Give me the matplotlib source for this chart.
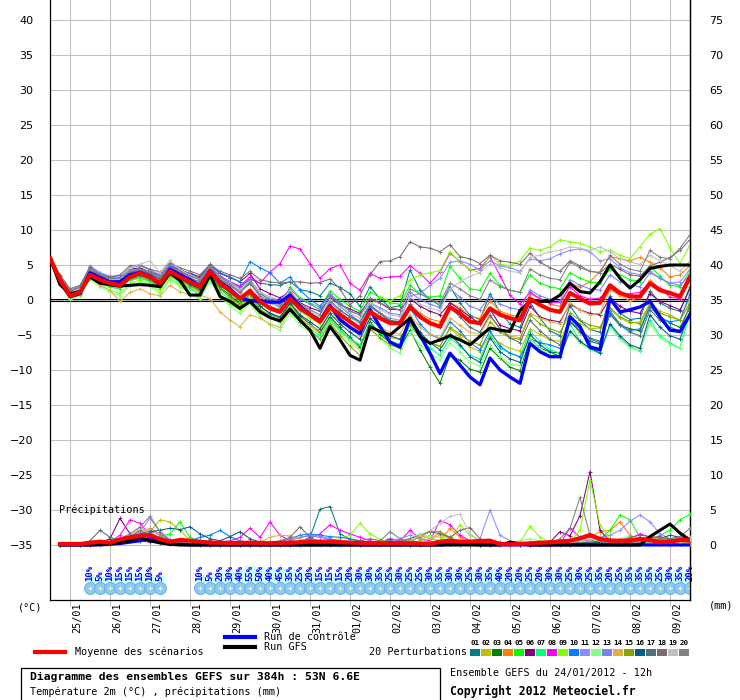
import matplotlib
matplotlib.use("Agg")
import matplotlib.pyplot as plt
import matplotlib.transforms as mtransforms
from matplotlib.lines import Line2D
from matplotlib.patches import Rectangle

MONO = "DejaVu Sans Mono"

# ---- data (6-hourly steps, 24/01/2012 12h + 0..384h) ----
hours = list(range(0, 385, 6))
day_hours = list(range(12, 384, 24))
day_labels = ["25/01", "26/01", "27/01", "28/01", "29/01", "30/01", "31/01", "01/02",
              "02/02", "03/02", "04/02", "05/02", "06/02", "07/02", "08/02", "09/02"]

mean_temp = [6.0, 2.9, 0.6, 1.1, 3.6, 2.9, 2.4, 2.1, 3.3, 3.8, 3.3, 2.4, 4.1,
             3.3, 2.6, 1.9, 4.1, 2.4, 1.4, 0.2, 1.3, -0.2, -1.2, -1.7, 0.2, -1.2,
             -2.1, -3.1, -1.0, -2.1, -3.1, -4.1, -1.7, -2.6, -3.3, -3.3, -1.0, -2.4, -3.3,
             -3.8, -1.0, -1.9, -3.1, -3.3, -1.2, -2.1, -2.6, -2.9, 0.2, -0.7, -1.4, -1.7,
             1.0, 0.2, -0.5, -0.4, 2.1, 1.0, 0.5, 0.5, 2.4, 1.4, 1.0, 0.5, 3.3]
control_temp = [6.0, 2.6, 0.5, 0.9, 3.9, 3.2, 2.6, 2.6, 3.6, 3.9, 3.4, 2.2, 4.4,
                3.6, 2.9, 2.0, 4.2, 2.6, 1.6, 0.3, -0.1, -0.2, -0.3, -0.3, 0.7, -0.9,
                -2.0, -3.0, -0.8, -2.8, -3.9, -4.8, -1.4, -3.8, -6.0, -6.7, -2.6, -5.0, -7.6,
                -10.5, -7.6, -9.3, -11.0, -12.1, -8.3, -10.0, -11.0, -11.9, -6.2, -7.4, -8.1, -8.1,
                -2.4, -3.8, -6.7, -7.1, 0.2, -1.7, -1.4, -1.0, -0.2, -2.4, -4.3, -4.5, -2.1]
gfs_temp = [6.0, 2.2, 0.9, 1.2, 3.3, 2.4, 2.2, 2.0, 2.1, 2.2, 2.1, 1.9, 3.9,
            2.8, 0.7, 0.7, 3.6, 0.5, -0.2, -1.2, -0.2, -1.7, -2.5, -3.0, -1.3, -2.9,
            -4.3, -6.9, -3.8, -5.7, -7.9, -8.6, -3.8, -4.5, -5.0, -3.8, -2.6, -5.2, -6.2,
            -5.7, -5.1, -5.7, -6.4, -5.2, -4.0, -4.3, -4.5, -1.5, -0.2, -0.2, -0.2, 0.7,
            2.4, 1.2, 1.0, 2.6, 5.0, 3.1, 1.7, 2.9, 4.5, 4.8, 5.0, 5.0, 5.0]

p01 = [6.0, 2.6, 0.9, 1.4, 3.9, 3.0, 2.7, 2.6, 3.9, 4.2, 3.7, 3.1, 4.6,
       4.0, 3.5, 2.9, 4.6, 3.4, 2.6, 1.9, 3.0, 2.4, 2.2, 2.1, 2.6, 1.5,
       1.2, 0.6, 2.4, 1.8, 0.9, -0.9, 1.9, 0.2, -1.1, -0.8, 4.3, 1.4, 0.1,
       -0.8, 1.9, -0.4, -2.2, -2.8, 0.9, -1.8, -3.4, -3.9, -0.3, -2.6, -4.4, -5.1,
       -0.8, -2.9, -4.2, -4.6, 0.6, -1.9, -2.8, -2.6, 1.3, -0.4, -1.2, -1.6, 1.9]
p02 = [6.0, 2.3, 0.3, 0.8, 3.2, 2.5, 1.9, 1.6, 2.9, 3.2, 2.7, 1.8, 3.5,
       2.6, 1.8, 1.0, 3.4, 1.6, 0.4, -0.9, 0.4, -1.3, -2.4, -2.9, -0.9, -2.6,
       -3.7, -4.8, -2.6, -4.2, -5.6, -6.9, -3.7, -4.6, -5.4, -5.6, -3.1, -4.9, -6.1,
       -6.6, -4.1, -5.3, -6.7, -7.4, -4.9, -6.2, -6.9, -7.3, -4.1, -4.9, -5.7, -5.9,
       -2.6, -3.4, -4.1, -4.0, -1.3, -2.6, -3.3, -3.1, -0.4, -1.6, -2.1, -2.9, 0.4]
p03 = [6.0, 2.8, 0.4, 0.9, 3.4, 2.6, 2.0, 1.8, 3.0, 3.4, 2.9, 2.0, 3.7,
       2.9, 2.2, 1.4, 3.6, 1.8, 0.7, -0.6, 0.8, -0.9, -1.9, -2.6, -0.6, -2.3,
       -3.4, -4.6, -2.4, -3.9, -5.3, -6.7, -3.1, -4.9, -6.1, -6.9, -4.3, -7.1, -9.6,
       -11.9, -7.9, -8.6, -9.9, -10.3, -6.9, -8.3, -9.6, -10.1, -5.4, -6.9, -7.4, -7.6,
       -3.1, -4.6, -5.9, -6.3, -1.9, -3.6, -4.1, -4.4, -0.9, -2.4, -3.3, -3.9, -1.1]
p04 = [6.0, 3.1, 0.8, 1.3, 3.8, 3.2, 2.6, 2.3, 3.6, 4.0, 3.5, 2.6, 4.4,
       3.6, 2.8, 2.1, 4.2, 2.5, 1.6, 0.4, 1.6, -0.1, -0.9, -1.4, 0.6, -1.1,
       -2.0, -2.9, -0.9, -2.1, -3.1, -3.9, -1.4, -2.3, -3.1, -3.3, -0.6, -1.9, -2.7,
       -3.1, -0.4, -1.1, -2.4, -2.6, -0.1, -1.6, -2.1, -2.4, 0.9, 0.2, -0.6, -0.9,
       2.3, 1.9, 2.6, 4.1, 6.2, 5.9, 5.6, 6.1, 5.4, 4.6, 3.3, 3.6, 4.9]
p05 = [6.0, 2.7, 0.5, 1.0, 3.5, 2.8, 2.3, 2.0, 3.2, 3.6, 3.1, 2.2, 3.9,
       3.1, 2.4, 1.6, 3.8, 2.1, 1.0, -0.3, 1.2, -0.6, -1.1, -1.3, 1.9, 0.3,
       -0.4, -1.1, 1.3, 0.1, -0.9, -1.6, 1.1, 0.4, -0.4, -0.6, 2.1, 0.9, 0.4,
       0.6, 4.8, 3.1, 1.6, 1.4, 3.8, 2.1, 1.4, 1.1, 3.6, 2.4, 1.9, 1.6,
       3.9, 3.1, 2.6, 2.4, 4.4, 3.6, 2.9, 2.6, 4.9, 3.4, 2.1, 1.9, 4.1]
p06 = [6.0, 3.2, 1.0, 1.5, 4.2, 3.4, 3.0, 3.1, 4.4, 4.6, 4.0, 3.6, 4.9,
       4.3, 3.8, 3.3, 5.0, 3.8, 3.2, 2.6, 3.8, 1.6, 0.9, 0.3, 1.2, -0.4,
       -1.1, -1.6, 0.3, -0.6, -1.3, -1.9, 0.1, -0.4, -1.3, -1.4, 0.2, -0.9, -1.6,
       -2.1, -0.4, -1.4, -2.4, -3.4, -1.3, -3.6, -4.1, -4.4, -0.9, -2.4, -2.9, -3.1,
       -0.6, -1.4, -1.9, -2.1, 0.3, -0.9, -1.6, -1.9, 0.9, -0.2, -0.8, -1.4, 1.6]
p07 = [6.0, 2.5, 0.2, 0.7, 3.3, 2.4, 1.8, 1.6, 2.8, 3.1, 2.6, 1.6, 3.4,
       2.4, 1.6, 0.7, 3.1, 1.2, 0.1, -1.1, 0.1, -1.6, -2.6, -3.1, -1.6, -3.1,
       -4.1, -5.1, -2.9, -4.4, -5.6, -6.4, -3.4, -4.6, -5.9, -6.3, -3.6, -5.4, -6.9,
       -7.9, -5.4, -6.6, -7.9, -8.4, -5.1, -6.9, -7.6, -8.1, -4.4, -5.9, -7.1, -7.6,
       -3.4, -5.9, -6.9, -7.4, -3.6, -5.4, -6.6, -7.3, -2.9, -5.1, -6.1, -6.9, -1.9]
p08 = [6.0, 2.9, 0.7, 1.2, 3.7, 3.1, 2.7, 2.5, 3.7, 4.1, 3.6, 2.9, 4.6,
       3.9, 3.4, 2.9, 4.5, 3.4, 2.6, 2.0, 3.3, 2.4, 4.0, 5.2, 7.7, 7.3,
       5.2, 3.1, 4.5, 5.0, 2.4, 1.4, 3.8, 3.1, 3.3, 3.4, 4.9, 3.8, 2.4,
       4.0, 6.7, 5.5, 4.3, 4.5, 6.2, 3.5, 0.7, -0.6, 1.1, 0.2, -0.4, -0.3,
       1.9, 0.6, 0.1, 0.3, 1.6, 0.8, 0.9, 1.1, 2.6, 1.7, 0.4, 0.2, 2.9]
p09 = [6.0, 2.4, 0.1, 0.6, 3.1, 2.2, 1.4, 0.9, 2.3, 2.9, 2.2, 1.2, 3.1,
       2.1, 0.9, 0.2, 2.9, 0.7, -0.6, -1.4, -0.4, -1.9, -2.4, -2.9, -0.9, -1.6,
       -2.6, -3.4, -0.9, -1.9, -2.6, -3.1, -0.6, 0.4, -0.1, 0.6, 2.9, 3.6, 3.9,
       4.2, 6.9, 5.4, 4.4, 3.9, 6.4, 5.1, 4.9, 5.6, 7.4, 7.1, 7.6, 8.6,
       8.3, 8.1, 7.6, 6.9, 7.1, 6.4, 5.9, 7.6, 9.4, 10.2, 7.4, 5.2, 7.9]
p10 = [6.0, 3.0, 0.9, 1.5, 4.3, 3.6, 3.1, 2.9, 4.1, 4.4, 3.9, 3.3, 4.9,
       4.2, 3.7, 3.1, 4.9, 3.9, 3.3, 2.6, 5.5, 4.6, 3.9, 2.4, 3.3, 1.4,
       0.1, -0.9, 0.9, -0.9, -2.1, -3.1, -0.6, -1.9, -3.1, -3.6, -1.1, -3.4, -4.9,
       -5.6, -3.1, -4.4, -6.1, -7.1, -4.4, -6.6, -7.6, -8.1, -5.6, -6.1, -6.4, -6.9,
       -3.1, -4.1, -5.6, -6.1, -1.6, -3.4, -4.4, -4.1, -0.9, -2.6, -3.1, -2.9, 0.9]
p11 = [6.0, 2.8, 0.8, 1.4, 4.6, 3.8, 3.3, 3.0, 4.3, 4.4, 3.9, 3.1, 4.4,
       3.6, 3.0, 2.4, 4.4, 2.9, 2.0, 1.0, 2.4, 0.4, -0.4, -1.1, 0.4, -1.4,
       -2.1, -2.6, -0.4, -1.6, -2.4, -3.4, -1.1, -1.9, -2.6, -2.9, 0.6, 0.9, 2.1,
       3.1, 5.4, 5.6, 5.1, 4.3, 5.6, 4.9, 4.6, 4.1, 5.9, 5.6, 5.9, 6.6,
       7.1, 7.3, 6.9, 5.6, 5.9, 4.6, 3.9, 3.6, 4.1, 3.1, 2.4, 2.6, 4.4]
p12 = [6.0, 2.2, 0.1, 0.6, 3.0, 1.9, 1.1, 0.6, 2.0, 2.6, 1.9, 0.9, 2.9,
       1.9, 1.0, 0.3, 2.6, 0.6, -0.9, -1.9, -0.6, -2.4, -3.6, -4.3, -1.9, -3.6,
       -4.6, -5.6, -3.1, -4.9, -5.9, -7.3, -4.1, -5.4, -6.9, -7.6, -4.6, -6.4, -7.6,
       -8.6, -6.1, -7.4, -8.9, -9.4, -6.4, -8.1, -9.1, -9.4, -5.4, -6.9, -7.9, -8.1,
       -4.6, -6.1, -7.1, -7.6, -3.9, -5.6, -6.9, -7.1, -3.4, -5.4, -6.4, -6.9, 0.1]
p13 = [6.0, 3.3, 1.2, 1.7, 4.9, 3.9, 3.4, 3.3, 4.6, 4.9, 4.3, 3.6, 5.1,
       4.4, 3.6, 3.0, 4.9, 3.4, 2.6, 1.6, 2.9, 1.1, 0.4, -0.1, 1.6, 0.1,
       -0.6, -1.4, 0.9, -0.4, -1.6, -2.1, -0.4, -1.1, -1.9, -2.1, 1.1, 0.1, -0.6,
       -1.1, 1.6, 0.4, -0.9, -1.4, 0.6, -0.6, -1.1, -1.4, 1.4, 0.6, 0.1, -0.1,
       2.9, 2.1, 1.6, 1.4, 3.6, 2.6, 2.1, 1.9, 3.9, 3.1, 2.4, 2.1, 3.6]
p14 = [6.0, 2.4, 0.7, 1.0, 3.3, 2.1, 1.4, -0.2, 1.1, 1.6, 0.9, 0.6, 2.1,
       1.2, 0.7, 0.7, 0.2, -1.7, -2.9, -3.8, -2.1, -2.6, -3.4, -3.9, -1.4, -2.9,
       -3.6, -4.4, -1.6, -3.1, -4.1, -5.1, -2.6, -3.9, -4.6, -4.9, -2.1, -3.9, -4.9,
       -5.4, -2.6, -3.6, -4.6, -4.9, -2.4, -4.1, -5.1, -5.4, -1.9, -2.6, -3.1, -3.4,
       -0.4, -1.4, -2.1, -1.9, 1.4, 0.6, -0.1, 0.4, 2.9, 1.6, 0.9, 0.6, 2.6]
p15 = [6.0, 2.6, 0.4, 0.8, 3.5, 2.6, 2.1, 1.9, 3.1, 3.4, 2.8, 1.9, 3.6,
       2.8, 2.0, 1.2, 3.4, 1.6, 0.4, -0.6, 0.9, -1.4, -2.1, -2.6, -1.1, -3.1,
       -4.3, -5.6, -3.4, -5.1, -6.6, -7.9, -4.1, -5.4, -6.4, -6.9, -3.4, -5.1, -6.1,
       -6.6, -3.9, -4.9, -5.9, -6.4, -3.1, -4.6, -5.4, -5.6, -2.1, -3.4, -4.1, -4.6,
       -1.9, -2.9, -3.6, -3.9, -1.1, -2.4, -3.1, -3.4, -0.6, -1.9, -2.4, -2.9, -0.4]
p16 = [6.0, 2.7, 0.6, 1.1, 3.9, 3.1, 2.6, 2.4, 3.4, 3.6, 3.1, 2.4, 4.0,
       3.1, 2.3, 1.6, 4.0, 2.1, 1.1, 0.1, 1.1, -0.9, -1.9, -2.4, -0.4, -2.1,
       -3.1, -4.1, -1.9, -3.4, -4.6, -5.6, -2.6, -3.9, -5.1, -5.6, -2.9, -4.6, -6.1,
       -7.1, -4.9, -6.4, -8.1, -8.9, -5.4, -7.4, -8.4, -8.9, -4.9, -6.4, -7.4, -8.1,
       -4.4, -5.9, -6.9, -7.6, -3.4, -5.1, -6.4, -6.9, -2.1, -3.9, -5.1, -5.6, -1.6]
p17 = [6.0, 3.4, 1.4, 1.9, 4.4, 3.3, 2.9, 2.8, 3.9, 4.3, 3.8, 3.0, 4.4,
       3.8, 3.1, 2.6, 4.4, 3.1, 2.1, 1.3, 2.3, 0.9, 0.1, -0.6, 0.9, -0.9,
       -1.9, -2.6, -0.1, -1.4, -2.4, -3.1, -0.9, -1.9, -2.9, -3.1, -0.6, -2.1, -3.4,
       -3.9, -1.1, -2.4, -3.9, -4.6, -2.1, -4.1, -5.4, -6.1, -2.9, -4.4, -5.6, -6.4,
       -3.1, -4.4, -5.4, -5.9, -2.1, -3.6, -4.6, -5.1, -1.4, -2.9, -3.9, -4.4, -0.6]
p18 = [6.0, 3.6, 1.6, 2.1, 4.7, 3.6, 3.3, 3.6, 4.9, 5.0, 4.4, 4.0, 5.3,
       4.6, 4.1, 3.6, 5.1, 4.1, 3.6, 3.1, 4.1, 2.9, 2.6, 2.4, 2.6, 2.6,
       2.4, 2.5, 3.0, 1.6, -0.7, 0.6, 3.6, 5.5, 5.6, 6.2, 8.3, 7.6, 7.4,
       6.9, 7.9, 6.2, 5.9, 5.2, 6.4, 5.6, 5.4, 5.1, 6.7, 5.4, 4.6, 4.1,
       5.6, 4.9, 4.1, 3.9, 5.1, 4.4, 3.6, 3.4, 4.9, 5.4, 6.1, 7.1, 8.6]
p19 = [6.0, 3.0, 1.1, 1.6, 4.1, 3.3, 2.9, 2.9, 4.6, 5.1, 5.6, 3.9, 5.7,
       4.3, 3.6, 2.9, 4.4, 3.1, 2.4, 1.4, 2.6, 1.1, 0.4, -0.4, 1.4, -0.6,
       -1.6, -2.4, 0.1, -0.9, -1.9, -2.6, -0.4, -1.4, -2.1, -2.4, 0.4, -0.6, -1.1,
       -1.6, 1.6, 2.6, 3.4, 3.9, 5.1, 4.6, 4.1, 3.9, 6.1, 6.4, 6.9, 7.1,
       7.6, 7.4, 7.1, 7.6, 6.9, 5.9, 5.4, 5.1, 6.4, 5.6, 4.9, 4.1, 5.6]
p20 = [6.0, 3.2, 1.3, 1.8, 4.4, 3.5, 3.1, 3.2, 4.1, 4.4, 4.1, 3.4, 4.7,
       4.1, 3.4, 2.9, 4.6, 3.3, 2.3, 1.1, 2.6, 0.6, -0.1, -0.9, 1.1, -0.6,
       -1.4, -2.1, 0.6, -0.6, -1.6, -2.1, 0.3, -0.4, -1.1, -1.4, 1.6, 0.9, 0.1,
       -0.4, 2.4, 1.6, 0.6, 0.1, 2.9, 1.9, 1.4, 1.1, 4.4, 3.6, 3.1, 2.9,
       5.4, 4.6, 4.1, 3.9, 6.4, 5.1, 4.4, 4.1, 7.1, 6.1, 5.9, 7.4, 9.3]

# precipitation (mm per 6h), first step has no value
mean_rain = [0.0, 0.14, 0.14, 0.14, 0.33, 0.48, 0.33, 0.81, 1.1, 1.29, 1.43, 0.81, 0.48,
             0.71, 0.62, 0.48, 0.33, 0.33, 0.3, 0.3, 0.33, 0.3, 0.24, 0.3, 0.33, 0.4,
             0.5, 0.48, 0.5, 0.4, 0.35, 0.3, 0.24, 0.24, 0.24, 0.24, 0.24, 0.2, 0.14,
             0.48, 0.62, 0.48, 0.48, 0.57, 0.62, 0.14, 0.1, 0.14, 0.24, 0.33, 0.38, 0.48,
             0.62, 0.95, 1.43, 0.86, 0.62, 0.62, 0.62, 0.86, 0.71, 0.38, 0.48, 0.71, 0.71]
control_rain = [0, 0, 0, 0, 0, 0, 0.1, 0.2, 0.4, 0.6, 0.9, 0.4, 0.1,
                0.1, 0, 0, 0, 0, 0, 0, 0, 0, 0, 0, 0, 0,
                0, 0, 0, 0, 0, 0, 0, 0, 0, 0, 0, 0, 0,
                0, 0.1, 0.2, 0.1, 0, 0, 0, 0, 0, 0, 0, 0, 0,
                0, 0, 0, 0, 0, 0, 0, 0, 0, 0, 0, 0, 0]
gfs_rain = [0, 0, 0, 0, 0, 0.1, 0.2, 0.3, 0.6, 1.1, 0.6, 0.3, 0.1,
            0, 0, 0, 0, 0, 0, 0, 0, 0, 0, 0, 0, 0,
            0, 0, 0, 0, 0, 0, 0, 0, 0, 0, 0, 0, 0,
            0, 0, 0, 0, 0, 0, 0, 0.4, 0.2, 0, 0, 0, 0,
            0, 0, 0, 0, 0, 0, 0, 0, 1.2, 2.1, 3.0, 1.7, 0.7]

r01 = [0, 0, 0, 0, 0.1, 0.3, 0.5, 0.9, 1.2, 0.8, 1.4, 0.9, 0.4,
       0.3, 0.2, 0.1, 0.1, 0.2, 0.1, 0, 0.1, 0.3, 0.4, 0.2, 0.1, 0.5,
       1.1, 5.1, 5.5, 1.6, 0.8, 0.6, 0.4, 0.3, 0.9, 0.6, 0.4, 0.2, 0.1,
       0.1, 0.2, 0.3, 0.1, 0, 0, 0.2, 0.4, 0.3, 0.1, 0.4, 0.6, 0.3,
       0.2, 0.1, 0.2, 0.3, 0.4, 0.2, 0.1, 0.3, 0.2, 0.4, 0.9, 0.6, 0.3]
r02 = [0, 0, 0, 0, 0, 0.1, 0.2, 0.4, 0.8, 1.3, 1.9, 3.6, 3.3,
       2.1, 0.7, 0.3, 0.1, 0, 0, 0, 0, 0.1, 0.2, 0.1, 0, 0,
       0.1, 0.2, 0.1, 0, 0, 0.2, 0.4, 0.6, 0.3, 0.1, 0.2, 0.3, 0.6,
       1.9, 0.8, 0.4, 0.2, 0.1, 0, 0.1, 0, 0, 0.1, 0.3, 0.2, 0.1,
       0, 0.1, 0.3, 0.5, 0.4, 0.2, 0.1, 0.3, 0.6, 0.4, 0.2, 0.1, 0.3]
r03 = [0, 0, 0, 0, 0, 0.2, 0.4, 0.6, 1.1, 1.6, 0.9, 0.6, 0.3,
       0.2, 0.1, 0, 0, 0, 0.1, 0, 0, 0, 0.1, 0, 0, 0.1,
       0.2, 0.4, 0.3, 0.2, 0.1, 0, 0.1, 0.3, 0.2, 0.1, 0, 0, 0.1,
       0.2, 0.1, 0, 0, 0.1, 0.3, 0.2, 0.1, 0, 0, 0.1, 0.2, 0.1,
       0, 0.1, 0.2, 0.6, 0.4, 0.3, 0.9, 0.6, 0.3, 0.2, 0.4, 0.2, 0.5]
r04 = [0, 0, 0, 0, 0, 0, 0.1, 0.4, 0.9, 1.4, 2.4, 1.6, 0.6,
       0.3, 0.1, 0, 0, 0.1, 0, 0, 0, 0, 0.1, 0.2, 0.1, 0,
       0, 0.1, 0.2, 0.1, 0, 0, 0.1, 0.2, 0.4, 0.3, 0.6, 1.4, 0.9,
       0.6, 2.4, 1.1, 0.5, 0.2, 0.1, 0, 0.1, 0.2, 0.1, 0, 0.1, 0.2,
       0.4, 0.9, 1.1, 1.9, 2.1, 3.3, 1.4, 0.6, 0.9, 0.4, 0.2, 0.3, 0.6]
r05 = [0, 0, 0, 0, 0, 0.1, 0.2, 0.3, 0.6, 0.9, 0.7, 1.2, 1.6,
       3.3, 1.1, 0.4, 0.2, 0.1, 0, 0, 0.1, 0, 0, 0.1, 0, 0,
       0, 0, 0.1, 0, 0.1, 0.2, 0.1, 0, 0.1, 0.3, 0.2, 0.1, 0.1,
       0.3, 0.6, 0.4, 0.2, 0.1, 0.1, 0, 0, 0.1, 0.2, 0.1, 0, 0.1,
       0.2, 0.1, 0.6, 0.9, 2.1, 4.3, 3.6, 1.1, 0.6, 1.4, 2.1, 3.6, 4.4]
r06 = [0, 0, 0, 0, 0, 0.3, 0.9, 3.8, 1.6, 0.6, 0.4, 0.3, 0.2,
       0.1, 0.2, 0.4, 0.6, 0.3, 0.1, 0, 0, 0.1, 0, 0, 0, 0.1,
       0.2, 0.1, 0, 0.1, 0.2, 0.4, 0.2, 0.1, 0, 0.1, 0, 0.1, 0.1,
       0.2, 0.1, 0.1, 0, 0, 0.1, 0.2, 0.3, 0.1, 0, 0.1, 0.4, 1.9,
       1.3, 4.2, 10.5, 2.1, 0.6, 0.4, 0.3, 0.6, 0.9, 1.2, 0.8, 0.6, 0.4]
r07 = [0, 0, 0, 0, 0, 0.1, 0.2, 0.4, 0.7, 1.1, 0.8, 0.4, 0.2,
       0.1, 0, 0, 0, 0.1, 0, 0, 0, 0, 0.1, 0, 0, 0,
       0.1, 0.2, 0.1, 0, 0, 0.1, 0.2, 0.1, 0, 0, 0.1, 0, 0,
       0.1, 0.2, 0.1, 0, 0.1, 0.3, 0.4, 0.2, 0.1, 0, 0, 0.1, 0.2,
       0.1, 0.2, 0.4, 0.3, 0.2, 0.1, 0.3, 0.2, 0.1, 0.2, 0.4, 0.3, 0.2]
r08 = [0, 0, 0, 0, 0, 0.1, 0.4, 1.4, 3.6, 3.1, 1.4, 0.6, 0.3,
       0.2, 0.1, 0, 0.1, 0.3, 0.6, 1.1, 2.4, 1.1, 3.3, 1.4, 0.6, 0.4,
       0.9, 1.6, 2.9, 2.1, 1.6, 1.1, 0.6, 0.4, 0.9, 0.6, 2.1, 0.9, 0.6,
       3.5, 2.9, 1.4, 0.6, 0.3, 0.2, 0.1, 0, 0.1, 0.2, 0.1, 0, 0.2,
       2.4, 1.1, 0.4, 0.2, 0.3, 0.6, 0.9, 1.6, 1.1, 0.6, 0.4, 0.3, 0.2]
r09 = [0, 0, 0, 0, 0, 0, 0.1, 0.3, 0.6, 0.9, 1.3, 0.8, 0.4,
       0.2, 0.1, 0, 0, 0, 0, 0, 0.1, 0.2, 0.1, 0, 0, 0.2,
       0.3, 0.4, 0.6, 0.9, 1.4, 3.1, 1.6, 0.8, 0.4, 0.2, 0.3, 0.6, 1.4,
       1.1, 0.6, 2.9, 1.4, 0.6, 0.3, 0.1, 0.2, 0.4, 2.7, 1.1, 0.4, 0.2,
       0.4, 2.1, 9.3, 2.9, 0.9, 0.6, 0.4, 0.3, 0.6, 1.1, 0.8, 0.4, 0.6]
r10 = [0, 0, 0, 0, 0, 0.2, 0.3, 0.6, 0.9, 1.1, 1.6, 1.1, 0.6,
       0.4, 0.6, 1.1, 1.4, 2.1, 1.2, 0.6, 0.3, 0.2, 0.1, 0.4, 0.9, 1.4,
       1.6, 1.4, 1.2, 1.1, 0.9, 0.6, 0.4, 0.3, 0.2, 0.1, 0.2, 0.1, 0,
       0.1, 0.2, 0.1, 0, 0.1, 0.3, 0.4, 0.2, 0.1, 0.2, 0.4, 0.3, 0.1,
       0.2, 0.3, 0.6, 0.9, 0.6, 0.4, 0.2, 0.3, 0.4, 0.2, 0.1, 0.3, 0.2]
r11 = [0, 0, 0, 0, 0, 0.1, 0.3, 0.6, 1.1, 1.9, 3.8, 1.9, 0.8,
       0.4, 0.2, 0.1, 0, 0, 0, 0.1, 0.2, 0.1, 0, 0.1, 0.6, 1.1,
       1.4, 1.3, 0.9, 0.6, 0.4, 0.2, 0.1, 0.3, 0.6, 0.9, 1.4, 0.9, 0.4,
       0.2, 0.3, 0.2, 0.4, 0.9, 5.0, 1.4, 0.6, 0.3, 0.2, 0.1, 0.2, 0.3,
       0.4, 0.6, 0.9, 1.1, 1.4, 2.1, 3.4, 4.3, 3.3, 1.6, 0.9, 0.6, 0.4]
r12 = [0, 0, 0, 0, 0, 0.1, 0.2, 0.3, 0.5, 0.8, 1.1, 0.6, 0.3,
       0.2, 0.1, 0.1, 0, 0, 0, 0, 0, 0.1, 0, 0, 0.1, 0,
       0, 0.1, 0.2, 0.1, 0, 0, 0.1, 0.2, 0.1, 0.3, 0.9, 1.6, 1.1,
       0.6, 0.4, 0.2, 0.1, 0, 0.1, 0.2, 0.4, 0.6, 0.9, 0.6, 0.3, 0.2,
       0.3, 0.6, 0.9, 0.6, 0.4, 0.9, 1.3, 0.6, 0.4, 0.3, 0.9, 0.6, 1.1]
r13 = [0, 0, 0, 0, 0, 0.1, 0.2, 0.4, 0.8, 1.4, 2.1, 1.4, 0.6,
       0.3, 0.1, 0, 0, 0.1, 0.2, 0.1, 0, 0.1, 0.2, 0.4, 0.9, 1.1,
       1.3, 1.1, 0.8, 0.6, 0.4, 0.3, 0.2, 0.1, 0.1, 0.3, 0.6, 0.4, 0.2,
       0.1, 0.2, 0.3, 0.2, 0.1, 0, 0.1, 0.2, 0.1, 0, 0.1, 0.2, 0.1,
       0.2, 0.3, 0.4, 0.6, 0.4, 0.3, 0.6, 0.9, 1.1, 0.6, 0.4, 0.3, 0.2]
r14 = [0, 0, 0, 0, 0, 0.1, 0.3, 0.6, 1.1, 2.4, 1.9, 0.9, 0.4,
       0.2, 0.1, 0.1, 0, 0, 0, 0, 0.1, 0.4, 1.1, 1.4, 1.3, 0.9,
       0.6, 0.4, 0.3, 0.2, 0.1, 0.1, 0.2, 0.3, 0.4, 0.3, 0.2, 0.6, 0.9,
       1.4, 0.9, 0.6, 0.3, 0.2, 0.1, 0.1, 0.2, 0.4, 0.3, 0.2, 0.1, 0.1,
       0.2, 0.4, 0.6, 1.1, 0.9, 0.6, 0.4, 0.6, 0.9, 1.1, 0.6, 0.4, 0.3]
r15 = [0, 0, 0, 0, 0, 0.1, 0.2, 0.4, 0.6, 0.9, 1.4, 1.1, 0.6,
       0.3, 0.1, 0.1, 0, 0, 0, 0, 0, 0.1, 0.2, 0.1, 0, 0,
       0.1, 0.2, 0.3, 0.2, 0.1, 0, 0.1, 0.2, 0.1, 0.2, 0.4, 1.2, 1.9,
       1.9, 1.1, 0.4, 0.2, 0.1, 0, 0.1, 0.1, 0, 0.1, 0.2, 0.1, 0,
       0.1, 0.2, 0.4, 0.6, 0.4, 0.3, 0.2, 0.4, 0.9, 0.6, 0.4, 0.3, 0.2]
r16 = [0, 0, 0, 0, 0, 0.2, 0.4, 0.8, 1.2, 1.6, 1.9, 2.1, 2.4,
       2.2, 2.6, 1.6, 0.9, 0.6, 1.2, 1.9, 0.9, 0.4, 0.2, 0.1, 0.1, 0.2,
       0.4, 0.6, 0.3, 0.2, 0.1, 0.1, 0.3, 0.4, 0.6, 0.4, 0.2, 0.1, 0.1,
       0.2, 0.3, 0.2, 0.1, 0, 0.1, 0.2, 0.1, 0, 0.1, 0.2, 0.3, 0.2,
       0.1, 0.2, 0.3, 0.4, 0.6, 0.4, 0.3, 0.2, 0.4, 0.9, 1.4, 1.1, 0.6]
r17 = [0, 0, 0, 0, 0.6, 2.1, 1.1, 0.6, 0.9, 1.6, 1.1, 0.6, 0.4,
       0.3, 0.2, 0.1, 0.1, 0, 0, 0, 0, 0.1, 0.2, 0.4, 0.3, 0.2,
       0.1, 0.2, 0.4, 0.3, 0.2, 0.1, 0.1, 0.2, 0.3, 0.4, 0.6, 0.3, 0.2,
       0.1, 0.2, 0.4, 0.3, 0.2, 0.1, 0.1, 0, 0.1, 0.2, 0.4, 0.3, 0.1,
       0.2, 0.4, 0.3, 0.6, 0.4, 0.3, 0.6, 0.9, 0.6, 0.4, 0.9, 1.2, 0.9]
r18 = [0, 0, 0, 0, 0, 0.1, 0.3, 0.6, 1.1, 2.1, 1.4, 0.9, 0.4,
       0.3, 0.2, 0.1, 0, 0, 0, 0.1, 0.2, 0.3, 0.4, 0.6, 1.1, 2.6,
       1.1, 0.4, 0.2, 0.1, 0.3, 0.6, 0.9, 0.6, 0.4, 0.6, 0.9, 1.4, 1.9,
       1.6, 1.1, 2.1, 2.5, 0.9, 0.4, 0.2, 0.1, 0.2, 0.4, 0.3, 0.2, 0.4,
       0.6, 0.9, 1.1, 0.9, 0.8, 0.6, 1.1, 1.4, 1.2, 1.1, 0.9, 0.6, 0.4]
r19 = [0, 0, 0, 0, 0, 0.1, 0.3, 0.6, 1.4, 2.4, 1.6, 0.8, 0.4,
       0.2, 0.1, 0, 0, 0, 0, 0, 0.1, 0.2, 0.1, 0, 0.1, 0.2,
       0.3, 0.2, 0.1, 0, 0.1, 0.2, 0.3, 0.4, 0.2, 0.1, 0.6, 1.4, 2.1,
       3.1, 4.1, 4.4, 1.6, 0.6, 0.3, 0.1, 0.2, 0.4, 0.3, 0.1, 0.2, 0.3,
       0.4, 0.6, 0.9, 0.6, 0.4, 0.3, 0.2, 0.4, 0.3, 0.6, 0.4, 0.3, 0.9]
r20 = [0, 0, 0, 0, 0, 0.2, 0.4, 0.9, 1.6, 2.6, 4.1, 1.9, 0.6,
       0.4, 0.2, 0.1, 0, 0, 0, 0, 0, 0.1, 0.2, 0.1, 0, 0.1,
       0.2, 0.4, 0.6, 0.4, 0.2, 0.1, 0.3, 0.6, 1.9, 0.9, 0.4, 0.2, 0.1,
       0.2, 0.3, 0.2, 0.1, 0, 0.1, 0.2, 0.1, 0, 0.1, 0.2, 0.4, 0.9,
       2.4, 6.8, 1.4, 0.6, 0.4, 0.3, 0.2, 0.4, 0.6, 0.9, 0.6, 1.1, 2.4]

# probability of precipitation (%) per step, None where not shown
rain_prob = [None, None, None, None, 10, 5, 10, 15, 15, 15, 10, 5, None,
             None, None, 10, 5, 20, 30, 40, 55, 50, 40, 45, 35, 25,
             20, 15, 15, 15, 20, 30, 30, 35, 25, 30, 25, 25, 30,
             35, 30, 30, 25, 30, 35, 40, 20, 20, 25, 20, 30, 30,
             25, 30, 25, 35, 20, 25, 35, 35, 35, 25, 30, 35, 20]

member_ids = ["01", "02", "03", "04", "05", "06", "07", "08", "09", "10",
              "11", "12", "13", "14", "15", "16", "17", "18", "19", "20"]
member_colors = ["#008080", "#C0C000", "#008000", "#FF8000", "#00FF00",
                 "#800080", "#00FF80", "#FF00FF", "#80FF00", "#0080FF",
                 "#8C8CFF", "#80FF80", "#7F7FF0", "#E0B040", "#80A800",
                 "#006080", "#507078", "#806870", "#C0C0C0", "#808080"]
member_temp = [p01, p02, p03, p04, p05, p06, p07, p08, p09, p10,
               p11, p12, p13, p14, p15, p16, p17, p18, p19, p20]
member_rain = [r01, r02, r03, r04, r05, r06, r07, r08, r09, r10,
               r11, r12, r13, r14, r15, r16, r17, r18, r19, r20]

# ---- figure ----
fig = plt.figure(figsize=(7.4, 7.0), dpi=100)
ax = fig.add_axes([50 / 740, 100 / 700, 640 / 740, 600 / 700])
ax2 = ax.twinx()

T_TOP = 300 / 7
ax.set_xlim(0, 384)
ax.set_ylim(-T_TOP, T_TOP)
ax2.set_ylim(-T_TOP + 35, T_TOP + 35)

ax.set_yticks(range(-35, 45, 5))
ax2.set_yticks(range(0, 80, 5))
ax.set_xticks(day_hours)
ax.set_xticklabels([])
ax.tick_params(axis="y", length=0, pad=12, labelsize=8)
ax2.tick_params(axis="y", length=0, pad=14, labelsize=8)
ax.tick_params(axis="x", length=4, color="#C0C0C0", width=0.75)
ax.grid(True, color="#C0C0C0", lw=0.75)
ax.set_axisbelow(True)

for side in ("top",):
    ax.spines[side].set_visible(False)
    ax2.spines[side].set_visible(False)
for sp in ("left", "bottom"):
    ax2.spines[sp].set_visible(False)
for a in (ax, ax2):
    for sp in a.spines.values():
        sp.set_linewidth(0.9)
        sp.set_color("black")

# double zero line
ax.axhline(0.17, color="black", lw=0.8, zorder=2)
ax.axhline(-0.17, color="black", lw=0.8, zorder=2)

# ensemble members
for vals, col in zip(member_temp, member_colors):
    ax.plot(hours, vals, color=col, lw=0.75, marker="+", ms=3, mew=0.6, zorder=3)
for vals, col in zip(member_rain, member_colors):
    ax2.plot(hours[1:], vals[1:], color=col, lw=0.75, marker="+", ms=3, mew=0.6, zorder=3)

ax.plot(hours, control_temp, color="#0000FF", lw=2.4, zorder=4)
ax.plot(hours, gfs_temp, color="black", lw=2.2, zorder=4)
ax.plot(hours, mean_temp, color="#FF0000", lw=3.0, zorder=5)
ax2.plot(hours[1:], control_rain[1:], color="#0000FF", lw=2.2, zorder=4)
ax2.plot(hours[1:], gfs_rain[1:], color="black", lw=2.2, zorder=4)
ax2.plot(hours[1:], mean_rain[1:], color="#FF0000", lw=3.0, zorder=5)

# probability strip
blend = mtransforms.blended_transform_factory(ax.transData, ax.transAxes)
strip_h = [h for h, p in zip(hours, rain_prob) if p is not None]
strip_p = [p for p in rain_prob if p is not None]
for h, p in zip(strip_h, strip_p):
    ax.add_patch(Rectangle((h - 3, 17 / 600), 6, (6 + 0.2 * p) / 600,
                           transform=blend, color="#CCFFFF", lw=0, zorder=1.5))
    ax.text(h, 19 / 600, f"{p}%", transform=blend, rotation=90, ha="center",
            va="bottom", color="#0000FF", fontsize=6.5, family=MONO,
            fontweight="bold", zorder=6)
ax.scatter(strip_h, [12 / 600] * len(strip_h), transform=blend, s=75,
           color="#8CCBF0", edgecolors="#60A8E0", linewidths=0.6, zorder=5)
ax.scatter(strip_h, [12 / 600] * len(strip_h), transform=blend, s=8,
           marker="+", color="white", linewidths=0.6, zorder=5.5)

# date labels
for h, lab in zip(day_hours, day_labels):
    ax.text(h + 1.2, -0.004, lab, transform=blend, rotation=90, ha="left",
            va="top", fontsize=7.3, family=MONO, clip_on=False)

# ---- overlay in pixel coordinates for legend and captions ----
ov = fig.add_axes([0, 0, 1, 1])
ov.set_xlim(0, 740)
ov.set_ylim(700, 0)
ov.axis("off")

txt = dict(family=MONO, fontsize=7.3, va="center", ha="left")
ov.text(59, 510, "Précipitations", **txt)
ov.text(18, 607, "(°C)", **txt)
ov.text(709, 606, "(mm)", **txt)

ov.add_line(Line2D([35, 65], [652, 652], color="#FF0000", lw=3.0))
ov.text(75, 652, "Moyenne des scénarios", **txt)
ov.add_line(Line2D([225, 255], [637, 637], color="#0000FF", lw=3.0))
ov.text(264, 637, "Run de contrôle", **txt)
ov.add_line(Line2D([225, 255], [647, 647], color="black", lw=3.0))
ov.text(264, 647, "Run GFS", **txt)
ov.text(369, 652, "20 Perturbations", **txt)

for i, (mid, col) in enumerate(zip(member_ids, member_colors)):
    x0 = 470 + 11 * i
    ov.add_patch(Rectangle((x0, 649), 10, 7, color=col, lw=0))
    ov.text(x0 + 5, 643, mid, family=MONO, fontsize=5.4, fontweight="bold",
            ha="center", va="center")

ov.add_patch(Rectangle((20.5, 667.5), 419, 40, fill=False, edgecolor="black", lw=0.9))
ov.text(30, 677, "Diagramme des ensembles GEFS sur 384h : 53N 6.6E",
        family=MONO, fontsize=8.2, fontweight="bold", va="center", ha="left")
ov.text(30, 692, "Température 2m (°C) , précipitations (mm)", **txt)
ov.text(450, 673, "Ensemble GEFS du 24/01/2012 - 12h", **txt)
ov.text(450, 691, "Copyright 2012 Meteociel.fr", family=MONO, fontsize=8.3,
        fontweight="bold", va="center", ha="left")

fig.savefig("out.png", dpi=100)
